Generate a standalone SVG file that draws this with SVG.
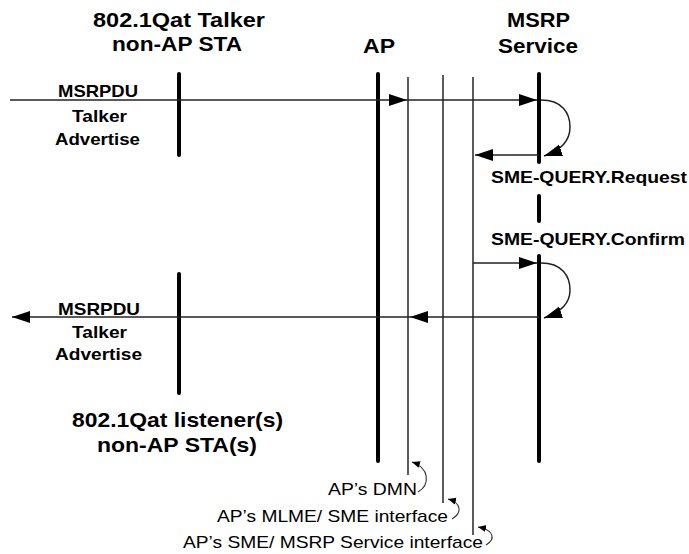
<svg xmlns="http://www.w3.org/2000/svg" width="689" height="554" viewBox="0 0 689 554">
<style>
text{font-family:"Liberation Sans",Arial,sans-serif;fill:#000}
.t{font-size:21px;font-weight:bold}
.l{font-size:17px;font-weight:bold}
.n{font-size:17px}
.thick{stroke:#000;stroke-width:4;stroke-linecap:round;fill:none}
.thin{stroke:#333;stroke-width:1.6;fill:none}
.msg{stroke:#222;stroke-width:1.5;fill:none;marker-end:url(#ah)}
.loop{stroke:#222;stroke-width:1.5;fill:none;marker-end:url(#ah)}
.note{stroke:#333;stroke-width:1.1;fill:none;marker-end:url(#sm)}
</style>
<defs>
<marker id="ah" markerUnits="userSpaceOnUse" markerWidth="20" markerHeight="14" refX="18" refY="6" orient="auto">
<path d="M0,0 L18,6 L0,12 Z" fill="#000"/>
</marker>
<marker id="sm" markerUnits="userSpaceOnUse" markerWidth="9" markerHeight="8" refX="8" refY="3.5" orient="auto">
<path d="M0,0 L8,3.5 L0,7 Z" fill="#000"/>
</marker>
</defs>

<g id="talker">
<text class="t" x="93" y="27" textLength="172" lengthAdjust="spacingAndGlyphs">802.1Qat Talker</text>
<text class="t" x="112" y="51" textLength="130" lengthAdjust="spacingAndGlyphs">non-AP STA</text>
<line class="thick" x1="179" y1="74" x2="179" y2="155"/>
</g>
<g id="listener">
<line class="thick" x1="179" y1="274" x2="179" y2="393"/>
<text class="t" x="72" y="427" textLength="211" lengthAdjust="spacingAndGlyphs">802.1Qat listener(s)</text>
<text class="t" x="97" y="452" textLength="160" lengthAdjust="spacingAndGlyphs">non-AP STA(s)</text>
</g>
<g id="ap">
<text class="t" x="363" y="53" textLength="32" lengthAdjust="spacingAndGlyphs">AP</text>
<line class="thick" x1="378" y1="74" x2="378" y2="461"/>
</g>
<g id="dmn">
<line class="thin" x1="408" y1="77" x2="408" y2="475"/>
<text class="n" x="328" y="495" textLength="89" lengthAdjust="spacingAndGlyphs">AP’s DMN</text>
</g>
<g id="mlme-sme">
<line class="thin" x1="443" y1="75" x2="443" y2="503"/>
<text class="n" x="217" y="522" textLength="231" lengthAdjust="spacingAndGlyphs">AP’s MLME/ SME interface</text>
</g>
<g id="sme-msrp">
<line class="thin" x1="473" y1="77" x2="473" y2="535"/>
<text class="n" x="183" y="548" textLength="300" lengthAdjust="spacingAndGlyphs">AP’s SME/ MSRP Service interface</text>
</g>
<g id="msrp">
<text class="t" x="507" y="27" textLength="63" lengthAdjust="spacingAndGlyphs">MSRP</text>
<text class="t" x="498" y="53" textLength="80" lengthAdjust="spacingAndGlyphs">Service</text>
<line class="thick" x1="539" y1="74" x2="539" y2="162"/>
<line class="thick" x1="539" y1="196" x2="539" y2="221"/>
<line class="thick" x1="539" y1="256" x2="539" y2="461"/>
</g>

<g id="connectors">
<line class="msg" x1="10" y1="100" x2="407" y2="100"/>
<line class="msg" x1="407" y1="100" x2="537" y2="100"/>
<path class="loop" d="M541,100 C562,100 570,113 570,127 C570,140 562,150 544,156"/>
<line class="msg" x1="539" y1="155" x2="475" y2="155"/>
<line class="msg" x1="473" y1="263" x2="537" y2="263"/>
<path class="loop" d="M541,263 C562,263 570,276 570,290 C570,303 562,312 544,318"/>
<line class="msg" x1="539" y1="317" x2="410" y2="317"/>
<line class="msg" x1="410" y1="317" x2="12" y2="317"/>
<path class="note" d="M418,492 C430,485 430,468 412,462"/>
<path class="note" d="M452,519 C462,513 462,503 448,499"/>
<path class="note" d="M486,545 C496,539 494,530 478,527"/>
</g>

<g id="labels">
<text class="l" x="58" y="97" textLength="80" lengthAdjust="spacingAndGlyphs">MSRPDU</text>
<text class="l" x="72" y="122" textLength="55" lengthAdjust="spacingAndGlyphs">Talker</text>
<text class="l" x="55" y="145" textLength="85" lengthAdjust="spacingAndGlyphs">Advertise</text>
<text class="l" x="491" y="183" textLength="196" lengthAdjust="spacingAndGlyphs">SME-QUERY.Request</text>
<text class="l" x="491" y="245" textLength="194" lengthAdjust="spacingAndGlyphs">SME-QUERY.Confirm</text>
<text class="l" x="58" y="315" textLength="82" lengthAdjust="spacingAndGlyphs">MSRPDU</text>
<text class="l" x="72" y="338" textLength="55" lengthAdjust="spacingAndGlyphs">Talker</text>
<text class="l" x="55" y="360" textLength="87" lengthAdjust="spacingAndGlyphs">Advertise</text>
</g>
</svg>
